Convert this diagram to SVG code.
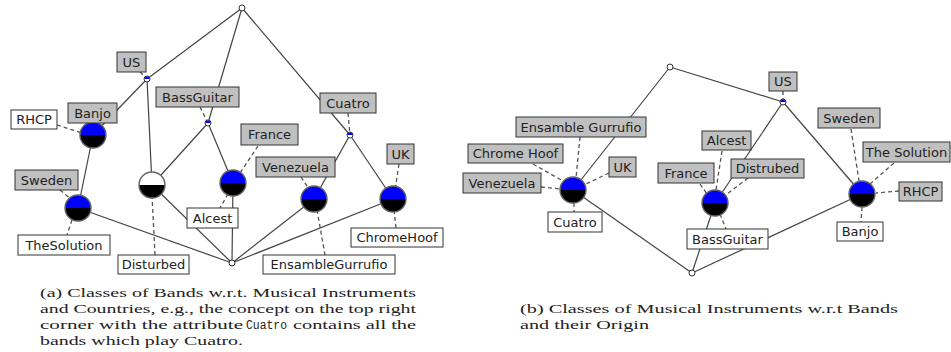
<svg xmlns="http://www.w3.org/2000/svg" xmlns:xlink="http://www.w3.org/1999/xlink" width="951" height="352" viewBox="0 0 951 352">
<style>
.e{stroke:#444;stroke-width:1.2;fill:none}
.d{stroke:#555;stroke-width:1.3;stroke-dasharray:4 3;fill:none}
.a rect{fill:#c0c0c0;stroke:#333;stroke-width:1}
.o rect{fill:#fff;stroke:#333;stroke-width:1}
.lb text{font-family:"DejaVu Sans",sans-serif;font-size:13px;fill:#222;text-anchor:middle}
.sm{fill:#fff;stroke:#333;stroke-width:1}
.cap{font-family:"Liberation Serif",serif;font-size:13.5px;fill:#222}
.tt{font-family:"Liberation Mono",monospace;font-size:12px;fill:#222}
</style>
<defs>
<g id="cb">
<path d="M-13 0A13 13 0 0 1 13 0Z" fill="#0000ff"/>
<path d="M-13 0A13 13 0 0 0 13 0Z" fill="#000"/>
<circle r="13" fill="none" stroke="#666" stroke-width="1.4"/>
</g>
<g id="cw">
<path d="M-13 0A13 13 0 0 1 13 0Z" fill="#fff"/>
<path d="M-13 0A13 13 0 0 0 13 0Z" fill="#000"/>
<circle r="13" fill="none" stroke="#666" stroke-width="1.4"/>
</g>
<g id="sb">
<circle r="3" fill="#fff" stroke="#333" stroke-width="1"/>
<path d="M-2.5 0A2.5 2.5 0 0 1 2.5 0Z" fill="#0000ff"/>
</g>
</defs>

<g id="connectors">
<!-- left -->
<line class="e" x1="242" y1="8" x2="147" y2="79"/>
<line class="e" x1="242" y1="8" x2="208" y2="123"/>
<line class="e" x1="242" y1="8" x2="350" y2="135"/>
<line class="e" x1="147" y1="79" x2="93" y2="135"/>
<line class="e" x1="147" y1="79" x2="152" y2="185"/>
<line class="e" x1="93" y1="135" x2="78" y2="208"/>
<line class="e" x1="208" y1="123" x2="152" y2="185"/>
<line class="e" x1="208" y1="123" x2="233" y2="183"/>
<line class="e" x1="350" y1="135" x2="314" y2="199"/>
<line class="e" x1="350" y1="135" x2="393" y2="199"/>
<line class="e" x1="78" y1="208" x2="232" y2="263"/>
<line class="e" x1="152" y1="185" x2="232" y2="263"/>
<line class="e" x1="233" y1="183" x2="232" y2="263"/>
<line class="e" x1="314" y1="199" x2="232" y2="263"/>
<line class="e" x1="393" y1="199" x2="232" y2="263"/>
<!-- left dashes -->
<line class="d" x1="140" y1="72" x2="147" y2="79"/>
<line class="d" x1="57" y1="125" x2="82" y2="133"/>
<line class="d" x1="200" y1="107" x2="208" y2="123"/>
<line class="d" x1="348" y1="113" x2="350" y2="135"/>
<line class="d" x1="258" y1="146" x2="240" y2="173"/>
<line class="d" x1="301" y1="177" x2="309" y2="189"/>
<line class="d" x1="399" y1="164" x2="395" y2="190"/>
<line class="d" x1="60" y1="190" x2="72" y2="200"/>
<line class="d" x1="72" y1="220" x2="67" y2="235"/>
<line class="d" x1="152" y1="195" x2="155" y2="255"/>
<line class="d" x1="228" y1="194" x2="220" y2="208"/>
<line class="d" x1="394" y1="210" x2="396" y2="228"/>
<line class="d" x1="317" y1="210" x2="325" y2="255"/>
<!-- right -->
<line class="e" x1="670" y1="67" x2="573" y2="190"/>
<line class="e" x1="670" y1="67" x2="783" y2="102"/>
<line class="e" x1="783" y1="102" x2="715" y2="203"/>
<line class="e" x1="783" y1="102" x2="862" y2="194"/>
<line class="e" x1="573" y1="190" x2="692" y2="273"/>
<line class="e" x1="715" y1="203" x2="692" y2="273"/>
<line class="e" x1="862" y1="194" x2="692" y2="273"/>
<!-- right dashes -->
<line class="d" x1="580" y1="137" x2="576" y2="178"/>
<line class="d" x1="533" y1="164" x2="563" y2="181"/>
<line class="d" x1="541" y1="187" x2="561" y2="189"/>
<line class="d" x1="609" y1="173" x2="586" y2="184"/>
<line class="d" x1="574" y1="203" x2="574" y2="212"/>
<line class="d" x1="783" y1="91" x2="783" y2="100"/>
<line class="d" x1="700" y1="184" x2="707" y2="194"/>
<line class="d" x1="722" y1="151" x2="716" y2="190"/>
<line class="d" x1="748" y1="178" x2="727" y2="194"/>
<line class="d" x1="720" y1="214" x2="726" y2="229"/>
<line class="d" x1="851" y1="129" x2="859" y2="181"/>
<line class="d" x1="894" y1="163" x2="870" y2="184"/>
<line class="d" x1="899" y1="191" x2="876" y2="193"/>
<line class="d" x1="862" y1="207" x2="861" y2="222"/>
</g>

<g id="lattice-a-nodes">
<g id="a-top"><circle class="sm" cx="242" cy="8" r="3"/></g>
<g id="a-us"><use xlink:href="#sb" x="147" y="79"/></g>
<g id="a-bg"><use xlink:href="#sb" x="208" y="123"/></g>
<g id="a-cu"><use xlink:href="#sb" x="350" y="135"/></g>
<g id="a-banjo"><use xlink:href="#cb" x="93" y="135"/></g>
<g id="a-sweden"><use xlink:href="#cb" x="78" y="208"/></g>
<g id="a-disturbed"><use xlink:href="#cw" x="152" y="185"/></g>
<g id="a-france"><use xlink:href="#cb" x="233" y="183"/></g>
<g id="a-venezuela"><use xlink:href="#cb" x="314" y="199"/></g>
<g id="a-uk"><use xlink:href="#cb" x="393" y="199"/></g>
<g id="a-bottom"><circle class="sm" cx="232" cy="263" r="3"/></g>
</g>

<g id="lattice-b-nodes">
<g id="b-top"><circle class="sm" cx="670" cy="67" r="3"/></g>
<g id="b-us"><use xlink:href="#sb" x="783" y="102"/></g>
<g id="b-cuatro"><use xlink:href="#cb" x="573" y="190"/></g>
<g id="b-bassguitar"><use xlink:href="#cb" x="715" y="203"/></g>
<g id="b-banjo"><use xlink:href="#cb" x="862" y="194"/></g>
<g id="b-bottom"><circle class="sm" cx="692" cy="273" r="3"/></g>
</g>

<g id="labels" class="lb">
<g id="la-us" class="a"><rect x="117" y="52" width="29" height="20"/><text x="131.5" y="66.5">US</text></g>
<g id="la-banjo" class="a"><rect x="68" y="103" width="49" height="20"/><text x="92.5" y="117.5">Banjo</text></g>
<g id="la-rhcp" class="o"><rect x="11" y="110" width="46" height="19"/><text x="34" y="124">RHCP</text></g>
<g id="la-bassguitar" class="a"><rect x="156" y="87" width="83" height="20"/><text x="197.5" y="101.5">BassGuitar</text></g>
<g id="la-cuatro" class="a"><rect x="320" y="93" width="56" height="20"/><text x="348" y="107.5">Cuatro</text></g>
<g id="la-france" class="a"><rect x="241" y="124" width="57" height="21"/><text x="269.5" y="139">France</text></g>
<g id="la-venezuela" class="a"><rect x="256" y="157" width="79" height="20"/><text x="295.5" y="171.5">Venezuela</text></g>
<g id="la-uk" class="a"><rect x="387" y="144" width="27" height="20"/><text x="400.5" y="158.5">UK</text></g>
<g id="la-sweden" class="a"><rect x="15" y="170" width="63" height="20"/><text x="46.5" y="184.5">Sweden</text></g>
<g id="la-thesolution" class="o"><rect x="18" y="235" width="92" height="20"/><text x="64" y="249.5">TheSolution</text></g>
<g id="la-disturbed" class="o"><rect x="118" y="255" width="71" height="19"/><text x="153.5" y="269">Disturbed</text></g>
<g id="la-alcest" class="o"><rect x="187" y="208" width="51" height="20"/><text x="212.5" y="222.5">Alcest</text></g>
<g id="la-chromehoof" class="o"><rect x="351" y="228" width="92" height="19"/><text x="397" y="242">ChromeHoof</text></g>
<g id="la-ensamblegurrufio" class="o"><rect x="263" y="255" width="132" height="19"/><text x="329" y="269">EnsambleGurrufio</text></g>

<g id="lb-ensamble" class="a"><rect x="516" y="117" width="130" height="20"/><text x="581" y="131.5">Ensamble Gurrufio</text></g>
<g id="lb-chromehoof" class="a"><rect x="468" y="144" width="95" height="19"/><text x="515.5" y="158">Chrome Hoof</text></g>
<g id="lb-venezuela" class="a"><rect x="463" y="173" width="78" height="20"/><text x="502" y="187.5">Venezuela</text></g>
<g id="lb-uk" class="a"><rect x="609" y="157" width="27" height="20"/><text x="622.5" y="171.5">UK</text></g>
<g id="lb-cuatro" class="o"><rect x="548" y="212" width="54" height="20"/><text x="575" y="226.5">Cuatro</text></g>
<g id="lb-us" class="a"><rect x="769" y="72" width="28" height="19"/><text x="783" y="86">US</text></g>
<g id="lb-france" class="a"><rect x="658" y="163" width="56" height="20"/><text x="686" y="177.5">France</text></g>
<g id="lb-alcest" class="a"><rect x="702" y="131" width="49" height="19"/><text x="726.5" y="145">Alcest</text></g>
<g id="lb-distrubed" class="a"><rect x="731" y="159" width="73" height="19"/><text x="767.5" y="173">Distrubed</text></g>
<g id="lb-bassguitar" class="o"><rect x="687" y="229" width="81" height="20"/><text x="727.5" y="243.5">BassGuitar</text></g>
<g id="lb-sweden" class="a"><rect x="818" y="108" width="62" height="20"/><text x="849" y="122.5">Sweden</text></g>
<g id="lb-thesolution" class="a"><rect x="863" y="142" width="87" height="20"/><text x="906.5" y="156.5">The Solution</text></g>
<g id="lb-rhcp" class="a"><rect x="899" y="182" width="43" height="19"/><text x="920.5" y="196">RHCP</text></g>
<g id="lb-banjo" class="o"><rect x="837" y="222" width="46" height="19"/><text x="860" y="236">Banjo</text></g>
</g>

<g id="captions">
<text class="cap" x="40" y="297" textLength="376" lengthAdjust="spacingAndGlyphs">(a) Classes of Bands w.r.t. Musical Instruments</text>
<text class="cap" x="40" y="313" textLength="376" lengthAdjust="spacingAndGlyphs">and Countries, e.g., the concept on the top right</text>
<text class="cap" x="40" y="329" textLength="203" lengthAdjust="spacingAndGlyphs">corner with the attribute</text>
<text class="tt" x="246" y="329" textLength="41" lengthAdjust="spacingAndGlyphs">Cuatro</text>
<text class="cap" x="293" y="329" textLength="123" lengthAdjust="spacingAndGlyphs">contains all the</text>
<text class="cap" x="40" y="345" textLength="203" lengthAdjust="spacingAndGlyphs">bands which play Cuatro.</text>
<text class="cap" x="520" y="313" textLength="378" lengthAdjust="spacingAndGlyphs">(b) Classes of Musical Instruments w.r.t Bands</text>
<text class="cap" x="520" y="329" textLength="129" lengthAdjust="spacingAndGlyphs">and their Origin</text>
</g>
</svg>
